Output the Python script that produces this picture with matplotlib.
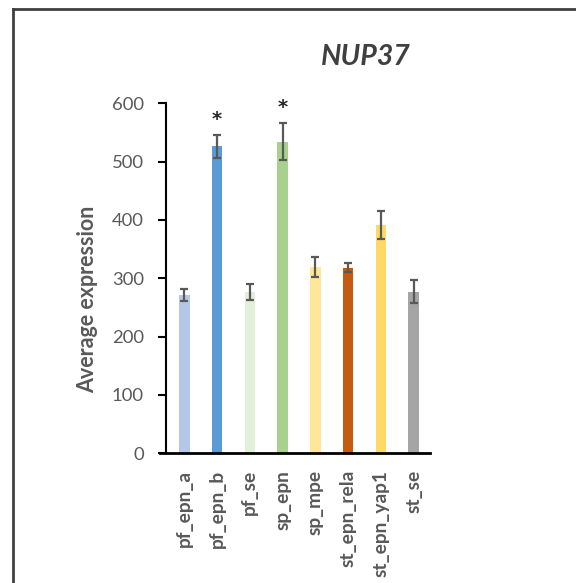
import matplotlib
matplotlib.use("Agg")
import matplotlib.pyplot as plt
from matplotlib.lines import Line2D

plt.rcParams["font.family"] = ["Lato", "DejaVu Sans"]

samples = ["pf_epn_a", "pf_epn_b", "pf_se", "sp_epn", "sp_mpe",
           "st_epn_rela", "st_epn_yap1", "st_se"]
means = [271, 526, 277, 534, 320, 318, 391, 277]
errors = [10, 20, 14, 32, 17, 8, 24, 20]
significant = [False, True, False, True, False, False, False, False]
colors = ["#B4C7E7", "#5B9BD5", "#E2EFDA", "#A9D18E", "#FFE699",
          "#C55A11", "#FFD966", "#A5A5A5"]

GRAY = "#595959"

fig = plt.figure(figsize=(5.76, 5.83), dpi=100)
ax = fig.add_axes([0.2882, 0.2225, 0.7465 - 0.2882, 0.8228 - 0.2225])

x = list(range(len(samples)))
ax.bar(x, means, width=0.32, color=colors, zorder=2)
ax.errorbar(x, means, yerr=errors, fmt="none", ecolor=GRAY, elinewidth=1.6,
            capsize=3, capthick=1.6, zorder=3)

for i, sig in enumerate(significant):
    if sig:
        ax.annotate("*", (x[i], means[i] + errors[i]), xytext=(0, 11),
                    textcoords="offset points", ha="center", va="center",
                    fontsize=14, fontweight="bold", color="#262626",
                    family="DejaVu Sans")

ax.set_xlim(-0.56, 7.5)
ax.set_ylim(0, 600)
ax.set_yticks(range(0, 601, 100))
ax.set_xticks(x)
ax.set_xticklabels(samples, rotation=90, fontsize=13.8, fontweight="bold", color=GRAY)
ax.tick_params(axis="x", length=0, pad=12)
ax.tick_params(axis="y", direction="out", length=6, width=1.5, labelsize=13.3,
               labelcolor=GRAY, pad=10)

for s in ["top", "right"]:
    ax.spines[s].set_visible(False)
ax.spines["left"].set_linewidth(1.5)
ax.spines["bottom"].set_linewidth(2)
ax.spines["bottom"].set_bounds(-0.56 - 6 / 32.8, 7.5)

ax.set_ylabel("Average expression", fontsize=15.5, fontweight="bold", color=GRAY, labelpad=10)
ax.yaxis.label.set_y(0.44)

fig.text(366 / 576, 1 - 57 / 583, "NUP37", fontsize=20.5, fontweight="bold",
         fontstyle="italic", color="#404040", ha="center", va="center")

# frame around the chart area
fig.add_artist(Line2D([13 / 576, 13 / 576], [0, 1 - 9 / 583], color="#404040", lw=2))
fig.add_artist(Line2D([13 / 576, 1], [1 - 9 / 583, 1 - 9 / 583], color="#404040", lw=2))

fig.savefig("out.png", dpi=100)
